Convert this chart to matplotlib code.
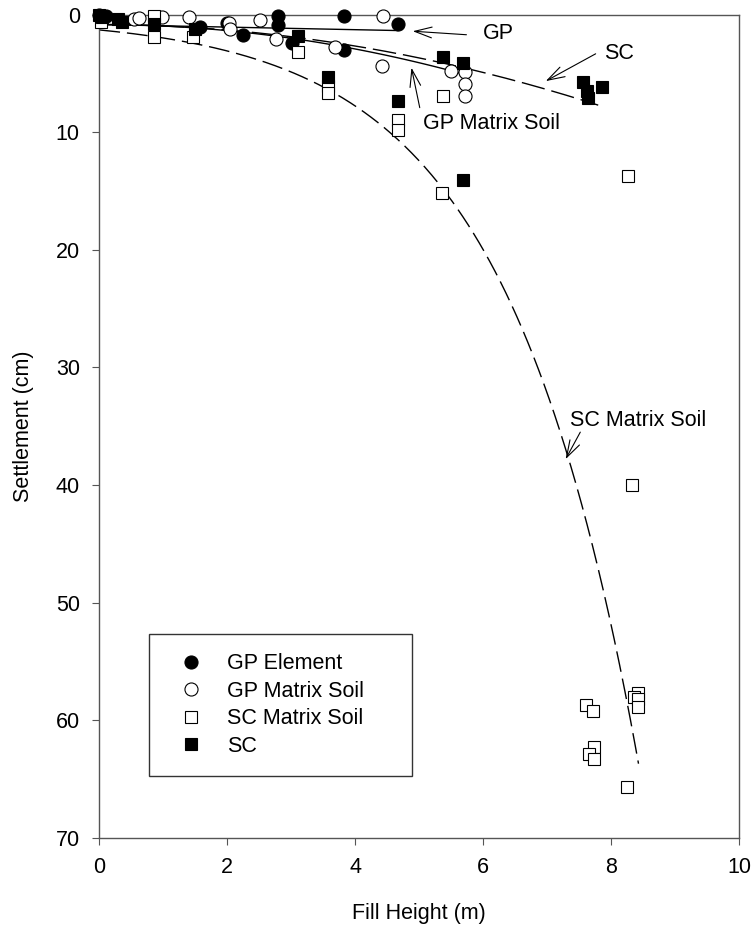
import numpy as np
import matplotlib
matplotlib.use("Agg")
import matplotlib.pyplot as plt

plt.rcParams['font.family'] = ['Liberation Sans', 'DejaVu Sans']

# ---- data ----
gp_elem_x = [0.0, 0.1, 1.58, 2.0, 2.24, 2.8, 2.8, 3.02, 3.83, 3.83, 4.67]
gp_elem_y = [0.0, 0.1, 1.1, 0.7, 1.7, 0.1, 0.9, 2.4, 0.1, 3.0, 0.8]

gp_matrix_x = [0.55, 0.62, 0.98, 1.4, 2.03, 2.05, 2.52, 2.76, 3.68, 4.43, 4.42, 5.5, 5.72, 5.72, 5.72]
gp_matrix_y = [0.35, 0.3, 0.2, 0.25, 0.7, 1.25, 0.5, 2.1, 2.8, 0.15, 4.4, 4.8, 4.9, 5.9, 6.9]

sc_matrix_x = [0.02, 0.85, 0.85, 1.47, 3.1, 3.58, 3.58, 4.67, 4.67, 5.38, 5.36, 8.27, 8.33,
               7.61, 7.72, 8.43, 8.36, 8.43, 8.43, 7.74, 7.65, 7.74, 8.25]
sc_matrix_y = [0.6, 0.1, 1.9, 1.9, 3.2, 6.1, 6.7, 9.0, 9.85, 6.9, 15.2, 13.7, 40.0,
               58.7, 59.2, 57.7, 58.0, 58.2, 58.9, 62.3, 62.9, 63.3, 65.7]

sc_x = [0.0, 0.05, 0.3, 0.35, 0.85, 1.5, 3.1, 3.58, 4.67, 5.38, 5.69, 5.69, 7.57, 7.62, 7.64, 7.86]
sc_y = [0.0, 0.2, 0.4, 0.6, 0.8, 1.2, 1.8, 5.3, 7.35, 3.6, 4.1, 14.1, 5.7, 6.5, 7.1, 6.2]

# regression fits (coefficients)
gp_fit = dict(c0=0.85, c1=0.11, xmax=4.67)                  # linear
gp_matrix_fit = dict(c0=0.85, c1=0.0, c2=0.13, xmax=5.72)   # quadratic
sc_fit = dict(c0=0.85, c1=0.013, c2=0.111, xmax=7.8)        # quadratic
sc_matrix_fit = dict(a=1.11, b=0.48, c=0.2, xmax=8.43)      # exponential

legend_labels = ["GP Element", "GP Matrix Soil", "SC Matrix Soil", "SC"]
x_ticks = [0, 2, 4, 6, 8, 10]
y_ticks = [0, 10, 20, 30, 40, 50, 60, 70]

FS = 15.5
fig = plt.figure(figsize=(7.54, 9.36), dpi=100)
ax = fig.add_axes([0.1317, 0.1047, 0.8483, 0.8798])

# fit curves
xg = np.linspace(0, gp_fit['xmax'], 100)
ax.plot(xg, gp_fit['c0'] + gp_fit['c1'] * xg, color='black', lw=1.0)
xgm = np.linspace(0, gp_matrix_fit['xmax'], 100)
ax.plot(xgm, gp_matrix_fit['c0'] + gp_matrix_fit['c1'] * xgm + gp_matrix_fit['c2'] * xgm**2,
        color='black', lw=1.0)
xs = np.linspace(0, sc_fit['xmax'], 200)
ax.plot(xs, sc_fit['c0'] + sc_fit['c1'] * xs + sc_fit['c2'] * xs**2,
        color='black', lw=1.0, linestyle=(0, (17, 5)))
xsm = np.linspace(0, sc_matrix_fit['xmax'], 400)
ax.plot(xsm, sc_matrix_fit['a'] * np.exp(sc_matrix_fit['b'] * xsm) + sc_matrix_fit['c'],
        color='black', lw=1.0, linestyle=(0, (15, 5)))

mew = 0.8
h1, = ax.plot(gp_elem_x, gp_elem_y, 'o', ms=9.4, mfc='black', mec='black', mew=mew,
              clip_on=False, zorder=4)
h2, = ax.plot(gp_matrix_x, gp_matrix_y, 'o', ms=9.4, mfc='white', mec='black', mew=mew,
              clip_on=False, zorder=4)
h3, = ax.plot(sc_matrix_x, sc_matrix_y, 's', ms=8.6, mfc='white', mec='black', mew=mew,
              clip_on=False, zorder=4)
h4, = ax.plot(sc_x, sc_y, 's', ms=8.6, mfc='black', mec='black', mew=mew,
              clip_on=False, zorder=4)

# annotations
arrow_kw = dict(arrowstyle='->,head_length=0.8,head_width=0.25', color='black', lw=0.8,
                shrinkA=0, shrinkB=0, mutation_scale=FS)
ax.annotate('', xy=(4.9, 1.42), xytext=(5.74, 1.72), arrowprops=arrow_kw)
ax.text(6.0, 1.64, 'GP', fontsize=FS, ha='left', va='center')
ax.annotate('', xy=(6.98, 5.66), xytext=(7.76, 3.34), arrowprops=arrow_kw)
ax.text(7.89, 3.35, 'SC', fontsize=FS, ha='left', va='center')
ax.annotate('', xy=(4.88, 4.52), xytext=(5.01, 7.92), arrowprops=arrow_kw)
ax.text(5.06, 9.28, 'GP Matrix Soil', fontsize=FS, ha='left', va='center')
ax.annotate('', xy=(7.29, 37.8), xytext=(7.52, 35.5), arrowprops=arrow_kw)
ax.text(7.36, 34.5, 'SC Matrix Soil', fontsize=FS, ha='left', va='center')

ax.set_xlim(0, 10)
ax.set_ylim(70, 0)
ax.set_xticks(x_ticks)
ax.set_yticks(y_ticks)
ax.tick_params(axis='both', direction='out', length=5, width=0.8, color='#555555',
               labelsize=FS, pad=9, top=False, right=False)
for s in ax.spines.values():
    s.set_color('#555555')
    s.set_linewidth(1.0)

ax.set_xlabel('Fill Height (m)', fontsize=FS, labelpad=18)
ax.set_ylabel('Settlement (cm)', fontsize=FS, labelpad=16)

leg = ax.legend([h1, h2, h3, h4], legend_labels, loc='lower left',
                bbox_to_anchor=(0.0777, 0.0753, 0.411, 0.171), mode='expand',
                borderaxespad=0, fontsize=FS, frameon=True, fancybox=False,
                borderpad=0.9, handlelength=2.1, handletextpad=0.62, labelspacing=0.3,
                numpoints=1)
leg.get_frame().set_edgecolor('black')
leg.get_frame().set_linewidth(1.0)

fig.savefig('out.png', dpi=100)
